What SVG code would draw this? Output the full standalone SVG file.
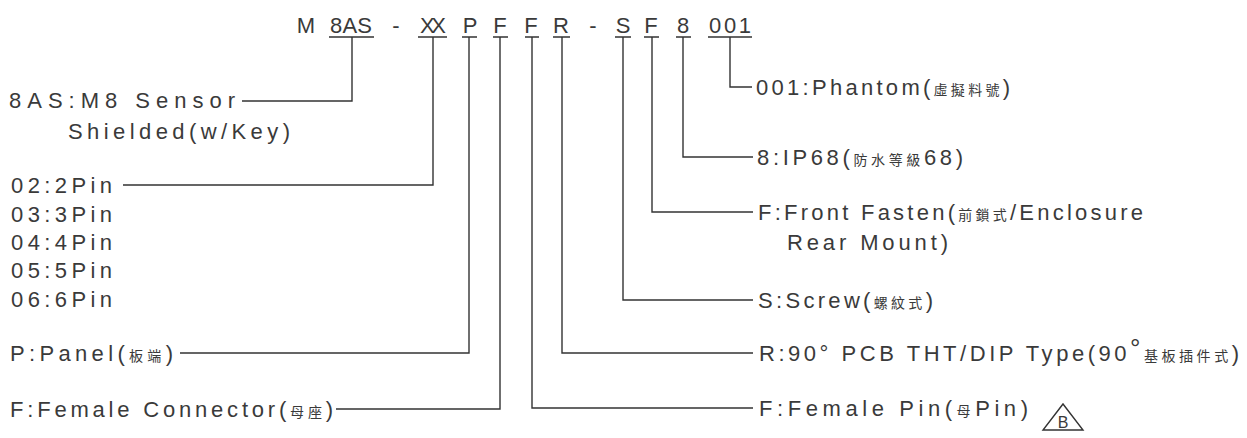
<svg xmlns="http://www.w3.org/2000/svg" width="1247" height="438" viewBox="0 0 1247 438">
<style>
text{font-family:"Liberation Sans","Noto Sans CJK TC",sans-serif;font-size:22px;fill:#3a3a3a}
.cjk{font-family:"Noto Sans CJK TC",sans-serif;font-size:14px}
.top{text-anchor:middle}
.ln{fill:none;stroke:#333;stroke-width:1.4}
</style>
<rect width="1247" height="438" fill="#fff"/>
<g id="code">
<text class="top" x="306" y="33">M</text>
<text class="top" x="351" y="33" textLength="42" lengthAdjust="spacing">8AS</text>
<text class="top" x="396" y="33">-</text>
<text class="top" x="433" y="33" textLength="26" lengthAdjust="spacing">XX</text>
<text class="top" x="470" y="33">P</text>
<text class="top" x="500" y="33">F</text>
<text class="top" x="531" y="33">F</text>
<text class="top" x="561" y="33">R</text>
<text class="top" x="593" y="33">-</text>
<text class="top" x="623" y="33">S</text>
<text class="top" x="651" y="33">F</text>
<text class="top" x="683" y="33">8</text>
<text class="top" x="730" y="33" textLength="42" lengthAdjust="spacing">001</text>
</g>
<g id="connectors">
<path class="ln" d="M329,37H374M418,37H447M462,37H477M493,37H508M525,37H539M553,37H570M615,37H631M644,37H659M676,37H691M708,37H752"/>
<path class="ln" d="M242,101H352V37"/>
<path class="ln" d="M123,185H433V37"/>
<path class="ln" d="M180,353H469V37"/>
<path class="ln" d="M336,409H500V37"/>
<path class="ln" d="M532,37V408H753"/>
<path class="ln" d="M562,37V353H753"/>
<path class="ln" d="M623,37V300H753"/>
<path class="ln" d="M652,37V212H753"/>
<path class="ln" d="M683,37V157H753"/>
<path class="ln" d="M730,37V87H752"/>
</g>
<g id="n-8as">
<text x="9" y="108" textLength="226" lengthAdjust="spacing">8AS:M8 Sensor</text>
<text x="68" y="139" textLength="222" lengthAdjust="spacing">Shielded(w/Key)</text>
</g>
<g id="n-pins">
<text x="11" y="193" textLength="101" lengthAdjust="spacing">02:2Pin</text>
<text x="11" y="222" textLength="101" lengthAdjust="spacing">03:3Pin</text>
<text x="11" y="250" textLength="101" lengthAdjust="spacing">04:4Pin</text>
<text x="11" y="278" textLength="101" lengthAdjust="spacing">05:5Pin</text>
<text x="11" y="307" textLength="101" lengthAdjust="spacing">06:6Pin</text>
</g>
<g id="n-panel">
<text x="10" y="361" textLength="163" lengthAdjust="spacing">P:Panel(<tspan class="cjk">板端</tspan>)</text>
</g>
<g id="n-female-conn">
<text x="10" y="417" textLength="323" lengthAdjust="spacing">F:Female Connector(<tspan class="cjk">母座</tspan>)</text>
</g>
<g id="n-001">
<text x="756" y="95" textLength="254" lengthAdjust="spacing">001:Phantom(<tspan class="cjk">虛擬料號</tspan>)</text>
</g>
<g id="n-8">
<text x="757" y="165" textLength="206" lengthAdjust="spacing">8:IP68(<tspan class="cjk">防水等級</tspan>68)</text>
</g>
<g id="n-front">
<text x="758" y="220" textLength="385" lengthAdjust="spacing">F:Front Fasten(<tspan class="cjk">前鎖式</tspan>/Enclosure</text>
<text x="787" y="250" textLength="161" lengthAdjust="spacing">Rear Mount)</text>
</g>
<g id="n-screw">
<text x="758" y="308" textLength="175" lengthAdjust="spacing">S:Screw(<tspan class="cjk">螺紋式</tspan>)</text>
</g>
<g id="n-r">
<text x="759" y="361" textLength="480" lengthAdjust="spacing">R:90°  PCB THT/DIP Type(90<tspan font-size="26" dy="-4">°</tspan><tspan class="cjk" dy="4">基板插件式</tspan>)</text>
</g>
<g id="n-female-pin">
<text x="759" y="416" textLength="269" lengthAdjust="spacing">F:Female Pin(<tspan class="cjk">母</tspan>Pin)</text>
<path class="ln" d="M1043,430H1083L1063,404Z" stroke-width="1.2"/>
<text x="1063" y="428" style="font-size:16px;text-anchor:middle">B</text>
</g>
</svg>
